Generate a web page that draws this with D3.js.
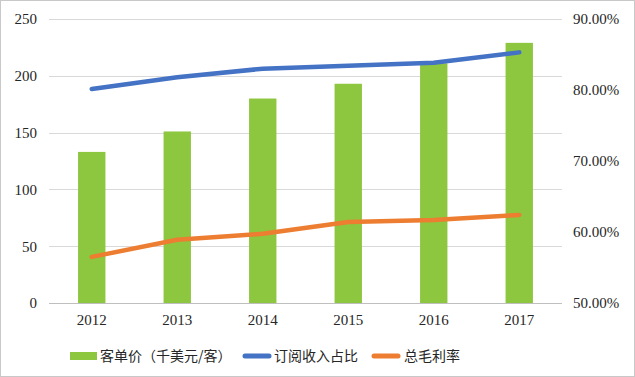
<!DOCTYPE html>
<html>
<head>
<meta charset="utf-8">
<script src="https://cdn.jsdelivr.net/npm/d3@7"></script>
<style>
  body { margin: 0; background: #fff; }
</style>
</head>
<body>
<div id="chart"></div>
<script>
const years = ['2012', '2013', '2014', '2015', '2016', '2017'];
const pricePerClient = [133, 151, 180, 193, 211, 229];
const subscriptionShare = [0.8015, 0.818, 0.830, 0.834, 0.8385, 0.853];
const grossMargin = [0.565, 0.589, 0.5975, 0.614, 0.617, 0.624];
const leftTicks = [0, 50, 100, 150, 200, 250];
const rightTicks = [0.5, 0.6, 0.7, 0.8, 0.9];
const legendLabels = ['客单价（千美元/客）', '订阅收入占比', '总毛利率'];

const width = 635, height = 377;
const margin = { top: 19, right: 73, bottom: 74, left: 49 };

const colors = { bar: '#8DC63F', blue: '#4472C4', orange: '#ED7D31' };

const svg = d3.select('#chart')
  .append('svg')
  .attr('width', width)
  .attr('height', height);

// outer frame
svg.append('rect')
  .attr('x', 0.5).attr('y', 0.5)
  .attr('width', width - 1).attr('height', height - 1)
  .attr('fill', 'none')
  .attr('stroke', '#c8c8c8');

const x = d3.scaleBand()
  .domain(years)
  .range([margin.left, width - margin.right])
  .paddingInner(0.68)
  .paddingOuter(0.34);

const yLeft = d3.scaleLinear()
  .domain([0, 250])
  .range([height - margin.bottom, margin.top]);

const yRight = d3.scaleLinear()
  .domain([0.5, 0.9])
  .range([height - margin.bottom, margin.top]);

// gridlines
svg.append('g')
  .selectAll('line')
  .data(leftTicks)
  .enter()
  .append('line')
  .attr('x1', margin.left)
  .attr('x2', width - margin.right)
  .attr('y1', d => Math.round(yLeft(d)) + 0.5)
  .attr('y2', d => Math.round(yLeft(d)) + 0.5)
  .attr('stroke', d => d === 0 ? '#bfbfbf' : '#d9d9d9')
  .attr('stroke-width', 1);

// axes
const axisLeft = svg.append('g')
  .attr('transform', `translate(${margin.left - 12},0)`)
  .call(d3.axisLeft(yLeft).tickValues(leftTicks).tickSize(0).tickPadding(0));

const axisRight = svg.append('g')
  .attr('transform', `translate(${width - margin.right + 11},0)`)
  .call(d3.axisRight(yRight).tickValues(rightTicks).tickSize(0).tickPadding(0)
    .tickFormat(d => (d * 100).toFixed(2) + '%'));

const axisBottom = svg.append('g')
  .attr('transform', `translate(0,${height - margin.bottom + 8})`)
  .call(d3.axisBottom(x).tickSize(0).tickPadding(0));

[axisLeft, axisRight, axisBottom].forEach(a => {
  a.select('.domain').remove();
  a.selectAll('text')
    .attr('font-family', '"Liberation Serif", "Times New Roman", serif')
    .attr('font-size', '15px')
    .attr('fill', '#262626');
});
axisBottom.selectAll('text').attr('dy', '0.9em');

// bars
svg.append('g')
  .selectAll('rect')
  .data(pricePerClient)
  .enter()
  .append('rect')
  .attr('x', (d, i) => x(years[i]))
  .attr('y', d => yLeft(d))
  .attr('width', x.bandwidth())
  .attr('height', d => yLeft(0) - yLeft(d))
  .attr('fill', colors.bar);

// lines
const line = d3.line()
  .x((d, i) => x(years[i]) + x.bandwidth() / 2)
  .y(d => yRight(d));

[[subscriptionShare, colors.blue], [grossMargin, colors.orange]].forEach(([series, color]) => {
  svg.append('path')
    .datum(series)
    .attr('d', line)
    .attr('fill', 'none')
    .attr('stroke', color)
    .attr('stroke-width', 4.5)
    .attr('stroke-linejoin', 'round')
    .attr('stroke-linecap', 'round');
});

// legend
const legendY = 356;
const legendItems = [
  { label: legendLabels[0], color: colors.bar, type: 'rect', x: 70, tx: 100 },
  { label: legendLabels[1], color: colors.blue, type: 'line', x: 243, tx: 274 },
  { label: legendLabels[2], color: colors.orange, type: 'line', x: 372, tx: 404 },
];

const legend = svg.append('g');
legendItems.forEach(item => {
  if (item.type === 'rect') {
    legend.append('rect')
      .attr('x', item.x).attr('y', legendY - 4)
      .attr('width', 27).attr('height', 8)
      .attr('fill', item.color);
  } else {
    legend.append('line')
      .attr('x1', item.x + 2).attr('x2', item.x + 26)
      .attr('y1', legendY).attr('y2', legendY)
      .attr('stroke', item.color)
      .attr('stroke-width', 5)
      .attr('stroke-linecap', 'round');
  }
  legend.append('text')
    .attr('x', item.tx)
    .attr('y', legendY)
    .attr('dy', '0.36em')
    .attr('font-family', '"Noto Sans CJK SC", sans-serif')
    .attr('font-size', '14px')
    .attr('fill', '#262626')
    .text(item.label);
});
</script>
</body>
</html>
